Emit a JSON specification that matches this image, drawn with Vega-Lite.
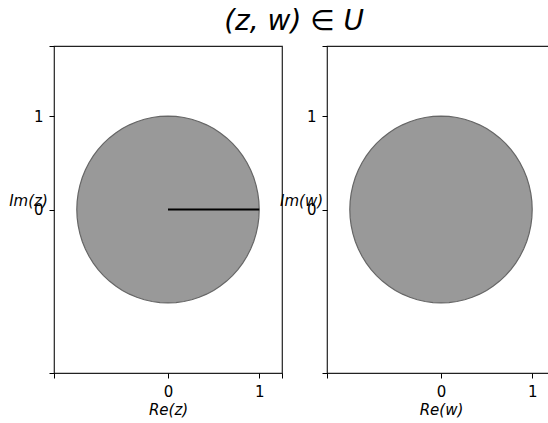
{
  "$schema": "https://vega.github.io/schema/vega-lite/v6.json",
  "padding": {"left": 8, "top": 7, "right": 0, "bottom": 0},
  "bounds": "flush",
  "spacing": 45,
  "title": {"text": "(z, w) ∈ U", "font": "DejaVu Sans", "fontStyle": "italic", "fontSize": 28, "fontWeight": "normal", "color": "#000", "anchor": "middle", "dx": 12, "offset": 9},
  "datasets": {
    "disk": [
      {"re": -1.0, "top": 0.0, "bot": -0.0},
      {"re": -0.9962, "top": 0.0872, "bot": -0.0872},
      {"re": -0.9848, "top": 0.1736, "bot": -0.1736},
      {"re": -0.9659, "top": 0.2588, "bot": -0.2588},
      {"re": -0.9397, "top": 0.342, "bot": -0.342},
      {"re": -0.9063, "top": 0.4226, "bot": -0.4226},
      {"re": -0.866, "top": 0.5, "bot": -0.5},
      {"re": -0.8192, "top": 0.5736, "bot": -0.5736},
      {"re": -0.766, "top": 0.6428, "bot": -0.6428},
      {"re": -0.7071, "top": 0.7071, "bot": -0.7071},
      {"re": -0.6428, "top": 0.766, "bot": -0.766},
      {"re": -0.5736, "top": 0.8192, "bot": -0.8192},
      {"re": -0.5, "top": 0.866, "bot": -0.866},
      {"re": -0.4226, "top": 0.9063, "bot": -0.9063},
      {"re": -0.342, "top": 0.9397, "bot": -0.9397},
      {"re": -0.2588, "top": 0.9659, "bot": -0.9659},
      {"re": -0.1736, "top": 0.9848, "bot": -0.9848},
      {"re": -0.0872, "top": 0.9962, "bot": -0.9962},
      {"re": 0.0, "top": 1.0, "bot": -1.0},
      {"re": 0.0872, "top": 0.9962, "bot": -0.9962},
      {"re": 0.1736, "top": 0.9848, "bot": -0.9848},
      {"re": 0.2588, "top": 0.9659, "bot": -0.9659},
      {"re": 0.342, "top": 0.9397, "bot": -0.9397},
      {"re": 0.4226, "top": 0.9063, "bot": -0.9063},
      {"re": 0.5, "top": 0.866, "bot": -0.866},
      {"re": 0.5736, "top": 0.8192, "bot": -0.8192},
      {"re": 0.6428, "top": 0.766, "bot": -0.766},
      {"re": 0.7071, "top": 0.7071, "bot": -0.7071},
      {"re": 0.766, "top": 0.6428, "bot": -0.6428},
      {"re": 0.8192, "top": 0.5736, "bot": -0.5736},
      {"re": 0.866, "top": 0.5, "bot": -0.5},
      {"re": 0.9063, "top": 0.4226, "bot": -0.4226},
      {"re": 0.9397, "top": 0.342, "bot": -0.342},
      {"re": 0.9659, "top": 0.2588, "bot": -0.2588},
      {"re": 0.9848, "top": 0.1736, "bot": -0.1736},
      {"re": 0.9962, "top": 0.0872, "bot": -0.0872},
      {"re": 1.0, "top": 0.0, "bot": -0.0}
    ],
    "seg": [
      {"re": 0, "im": 0},
      {"re": 1, "im": 0}
    ]
  },
  "hconcat": [
    {
      "width": 228,
      "height": 327,
      "layer": [
        {
          "data": {"name": "disk"},
          "mark": {"type": "area", "fill": "#999999", "stroke": "#666666", "strokeWidth": 1.2, "orient": "vertical"},
          "encoding": {
            "x": {"field": "re", "type": "quantitative", "scale": {"domain": [-1.25, 1.25], "nice": false, "zero": false},
                  "axis": {"title": "Re(z)", "values": [-1.25, 0, 1, 1.25], "labelExpr": "datum.value == 0 ? '0' : datum.value == 1 ? '1' : ''"}},
            "y": {"field": "top", "type": "quantitative", "scale": {"domain": [-1.75, 1.75], "nice": false, "zero": false},
                  "axis": {"title": "Im(z)", "values": [-1.75, 0, 1, 1.75], "labelExpr": "datum.value == 0 ? '0' : datum.value == 1 ? '1' : ''", "titleX": -26, "titleY": 154}},
            "y2": {"field": "bot"}
          }
        },
        {
          "data": {"name": "seg"},
          "mark": {"type": "line", "color": "#000000", "strokeWidth": 2},
          "encoding": {
            "x": {"field": "re", "type": "quantitative"},
            "y": {"field": "im", "type": "quantitative"}
          }
        }
      ]
    },
    {
      "width": 228,
      "height": 327,
      "data": {"name": "disk"},
      "mark": {"type": "area", "fill": "#999999", "stroke": "#666666", "strokeWidth": 1.2, "orient": "vertical"},
      "encoding": {
        "x": {"field": "re", "type": "quantitative", "scale": {"domain": [-1.25, 1.25], "nice": false, "zero": false},
              "axis": {"title": "Re(w)", "values": [-1.25, 0, 1, 1.25], "labelExpr": "datum.value == 0 ? '0' : datum.value == 1 ? '1' : ''"}},
        "y": {"field": "top", "type": "quantitative", "scale": {"domain": [-1.75, 1.75], "nice": false, "zero": false},
              "axis": {"title": "Im(w)", "values": [-1.75, 0, 1, 1.75], "labelExpr": "datum.value == 0 ? '0' : datum.value == 1 ? '1' : ''", "titleX": -26, "titleY": 154}},
        "y2": {"field": "bot"}
      }
    }
  ],
  "config": {
    "font": "DejaVu Sans",
    "view": {"stroke": "#222222", "strokeWidth": 1.2},
    "axis": {
      "grid": false,
      "domain": false,
      "ticks": true,
      "tickColor": "#000000",
      "tickSize": 5,
      "tickWidth": 1,
      "labelFont": "DejaVu Sans",
      "labelFontSize": 15,
      "labelColor": "#000000",
      "labelPadding": 6,
      "titleFont": "DejaVu Sans",
      "titleFontSize": 15,
      "titleFontStyle": "italic",
      "titleFontWeight": "normal",
      "titleColor": "#000000"
    },
    "axisY": {"titleAngle": 0, "titleAlign": "center", "titleBaseline": "middle"},
    "axisX": {"titlePadding": 3, "labelPadding": 6}
  }
}
